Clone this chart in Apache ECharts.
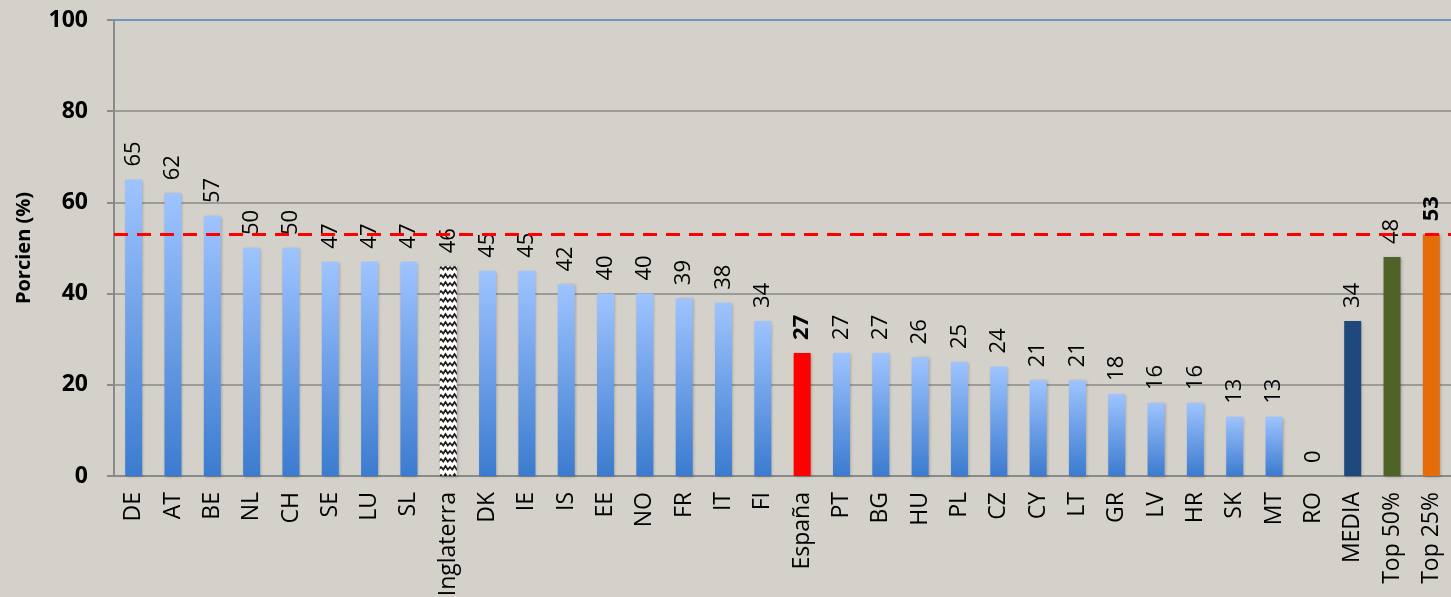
<!DOCTYPE html>
<html>
<head>
<meta charset="utf-8">
<script src="https://cdn.jsdelivr.net/npm/echarts@6/dist/echarts.min.js"></script>
<style>
  html, body { margin: 0; padding: 0; background: #d4d0ca; }
  #chart { width: 1451px; height: 597px; }
</style>
</head>
<body>
<div id="chart"></div>
<script>
// datos
const countries = ['DE', 'AT', 'BE', 'NL', 'CH', 'SE', 'LU', 'SL', 'Inglaterra', 'DK', 'IE', 'IS', 'EE', 'NO', 'FR', 'IT', 'FI',
    'España', 'PT', 'BG', 'HU', 'PL', 'CZ', 'CY', 'LT', 'GR', 'LV', 'HR', 'SK', 'MT', 'RO', 'MEDIA', 'Top 50%', 'Top 25%'];
const shares = [65, 62, 57, 50, 50, 47, 47, 47, 46, 45, 45, 42, 40, 40, 39, 38, 34,
    27, 27, 27, 26, 25, 24, 21, 21, 18, 16, 16, 13, 13, 0, 34, 48, 53];
const targetLine = 53;
const yTicks = [0, 20, 40, 60, 80, 100];

// trama de Inglaterra
function makeHatch() {
    const c = document.createElement('canvas');
    c.width = 9; c.height = 8;
    const ctx = c.getContext('2d');
    ctx.fillStyle = '#ffffff';
    ctx.fillRect(0, 0, 9, 8);
    ctx.strokeStyle = '#1a1a1a';
    ctx.lineWidth = 1.7;
    ctx.beginPath();
    ctx.moveTo(-1, 2);
    ctx.lineTo(2.25, 5.5);
    ctx.lineTo(4.5, 2);
    ctx.lineTo(6.75, 5.5);
    ctx.lineTo(10, 2);
    ctx.stroke();
    return c;
}

const blueGrad = {
    type: 'linear', x: 0, y: 0, x2: 0, y2: 1,
    colorStops: [{ offset: 0, color: '#9ec4ff' }, { offset: 1, color: '#3b7bcf' }]
};
const specialColors = {
    'Inglaterra': { image: makeHatch(), repeat: 'repeat' },
    'España': '#ff0000',
    'MEDIA': '#1f497d',
    'Top 50%': '#4f6228',
    'Top 25%': '#e46c0a'
};
const boldLabels = ['España', 'Top 25%'];

const barData = shares.map(function (v, i) {
    const name = countries[i];
    const item = { value: v, itemStyle: { color: specialColors[name] || blueGrad } };
    if (boldLabels.indexOf(name) >= 0) item.label = { fontWeight: 'bold' };
    return item;
});

const chart = echarts.init(document.getElementById('chart'));
chart.setOption({
    backgroundColor: '#d4d0ca',
    animation: false,
    grid: { left: 114, right: 0, top: 20, bottom: 121, outerBoundsMode: 'none' },
    xAxis: {
        type: 'category',
        data: countries,
        axisLine: { lineStyle: { color: '#8a8a8a', width: 2 } },
        axisTick: { length: 8, lineStyle: { color: '#8a8a8a', width: 2 } },
        axisLabel: {
            rotate: 90, margin: 16, fontSize: 23, color: '#000',
            fontFamily: 'Open Sans', interval: 0
        }
    },
    yAxis: {
        type: 'value',
        min: yTicks[0], max: yTicks[yTicks.length - 1], interval: 20,
        name: 'Porcien (%)',
        nameLocation: 'middle',
        nameGap: 80,
        nameRotate: 90,
        nameTextStyle: { fontSize: 20, fontWeight: 'bold', color: '#000', fontFamily: 'Open Sans' },
        axisLine: { show: true, lineStyle: { color: '#8a8a8a', width: 2 } },
        axisTick: { show: true, length: 7, lineStyle: { color: '#8a8a8a', width: 2 } },
        axisLabel: { margin: 26, fontSize: 23, fontWeight: 'bold', color: '#000', fontFamily: 'Open Sans' },
        splitLine: {
            lineStyle: { color: ['#8a8a8a', '#8a8a8a', '#8a8a8a', '#8a8a8a', '#8a8a8a', '#4f81bd'], width: 1.5 }
        }
    },
    series: [{
        type: 'bar',
        data: barData,
        barWidth: 17,
        itemStyle: { shadowColor: 'rgba(0,0,0,0.25)', shadowBlur: 3, shadowOffsetX: 1, shadowOffsetY: 1 },
        label: {
            show: true, position: 'top', rotate: 90, distance: 13,
            align: 'left', verticalAlign: 'middle',
            fontSize: 22, color: '#000', fontFamily: 'Open Sans'
        },
        markLine: {
            silent: true,
            symbol: 'none',
            label: { show: false },
            lineStyle: { color: '#ff0000', width: 3, type: [14, 9] },
            data: [{ yAxis: targetLine }]
        }
    }]
});
</script>
</body>
</html>
